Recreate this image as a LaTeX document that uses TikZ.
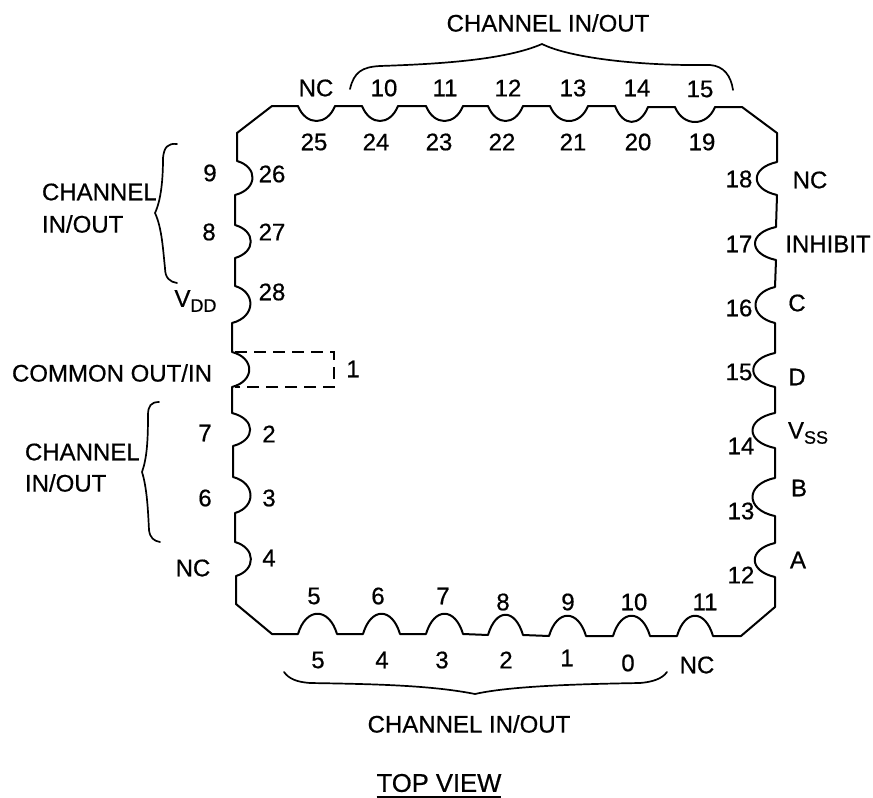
\documentclass[tikz,border=0pt]{standalone}
\usepackage{fontspec}
\setmainfont{Liberation Sans}[FakeBold=0.6]
\tikzstyle{lbl}=[inner sep=0,outer sep=0,font=\fontsize{24}{28}\selectfont]
\tikzstyle{lblbig}=[lbl,font=\fontsize{25.6}{30}\selectfont]
\tikzstyle{outline}=[line width=2pt,line join=round]
\tikzstyle{wbrace}=[line width=1.7pt,line cap=round]
\newcommand{\subs}[1]{{\fontsize{18}{20}\selectfont\raisebox{-5pt}{#1}}}
\begin{document}
\begin{tikzpicture}[x=1pt,y=-1pt]

	\useasboundingbox (0,0) rectangle (873,798);

	\draw[outline] (272,106)
		-- (298,106) .. controls (306,126) and (327,126) .. (335,106)
		-- (362,106) .. controls (370,126) and (390,126) .. (398,106)
		-- (426,106) .. controls (434,126) and (455,126) .. (463,106)
		-- (488,106) .. controls (496,126) and (515,126) .. (523,106)
		-- (550,106) .. controls (558,126) and (580,126) .. (588,106)
		-- (615,106) .. controls (623,127) and (640,127) .. (648,107)
		-- (675,107) .. controls (683,127) and (707,127) .. (715,107)
		-- (742,107) -- (777,133)
		-- (777,162) .. controls (750,168) and (750,189) .. (777,195)
		-- (776,227) .. controls (748,233) and (748,254) .. (776,260)
		-- (775,287) .. controls (749,293) and (749,317) .. (775,323)
		-- (775,353) .. controls (746,359) and (746,381) .. (775,387)
		-- (775,413) .. controls (745,419) and (745,442) .. (775,448)
		-- (775,478) .. controls (745,484) and (745,510) .. (775,516)
		-- (775,543) .. controls (748,549) and (748,571) .. (775,577)
		-- (775,607) -- (741,636)
		-- (713,636) .. controls (705,609) and (685,609) .. (677,636)
		-- (650,636) .. controls (642,609) and (621,609) .. (613,636)
		-- (586,636) .. controls (578,609) and (557,609) .. (549,636)
		-- (523,635) .. controls (515,608) and (496,608) .. (488,635)
		-- (463,634) .. controls (455,607) and (434,607) .. (426,634)
		-- (400,634) .. controls (392,607) and (371,607) .. (363,634)
		-- (337,634) .. controls (329,607) and (306,607) .. (298,634)
		-- (272,634) -- (236,604)
		-- (236,576) .. controls (256,570) and (256,548) .. (235,542)
		-- (235,513) .. controls (256,507) and (256,483) .. (233,477)
		-- (233,446) .. controls (256,440) and (256,419) .. (232,413)
		-- (232,387) .. controls (255,381) and (255,358) .. (232,352)
		-- (232,323) .. controls (256,317) and (256,292) .. (235,286)
		-- (235,258) .. controls (256,252) and (256,231) .. (235,225)
		-- (235,195) .. controls (258,189) and (258,167) .. (237,161)
		-- (237,133) -- cycle;

	\draw[line width=1.7pt,dash pattern=on 12pt off 7pt] (235,352) -- (334,352) -- (334,387) -- (235,387);

	\draw[wbrace] (350,89) .. controls (354,72) and (362,67) .. (380,66) .. controls (440,64) and (505,60) .. (542,44) .. controls (570,58) and (640,66) .. (710,65) .. controls (724,66) and (731,76) .. (733,90);
	\draw[wbrace] (284,672) .. controls (289,679) and (297,682) .. (310,683) .. controls (370,684) and (430,685) .. (475,694) .. controls (510,686) and (580,684) .. (640,683) .. controls (652,682) and (662,679) .. (667,672);
	\draw[wbrace] (177,144) .. controls (168,143) and (164,147) .. (163,158) .. controls (163,180) and (161,200) .. (155,213) .. controls (162,228) and (163,250) .. (165,268) .. controls (165,278) and (170,282) .. (177,283);
	\draw[wbrace] (159,402) .. controls (151,402) and (148,406) .. (148,415) .. controls (148,440) and (147,458) .. (142,472) .. controls (147,488) and (148,510) .. (149,530) .. controls (150,538) and (154,541) .. (160,542);

	\node[lbl] (chtop) at (548,23) {CHANNEL IN/OUT};
	\node[lbl] (chbot) at (469,724) {CHANNEL IN/OUT};
	\node[lblbig] (topview) at (439,783) {TOP VIEW};
	\draw[line width=1.7pt] ([yshift=-5pt]topview.south west) -- ([yshift=-5pt]topview.south east);

	\node[lbl,anchor=west] (chlefta) at (42,192) {CHANNEL};
	\node[lbl,anchor=west] (chleftb) at (42,224) {IN/OUT};
	\node[lbl,anchor=west] (chleftc) at (25,452) {CHANNEL};
	\node[lbl,anchor=west] (chleftd) at (25,483) {IN/OUT};
	\node[lbl] (common) at (112,373) {COMMON OUT/IN};
	\node[lbl] (vdd) at (195.5,301) {V\subs{DD}};
	\node[lbl] (ncleft) at (193,568) {NC};

	\node[lbl] (cha9) at (210,173) {9};
	\node[lbl] (cha8) at (209,232) {8};
	\node[lbl] (cha7) at (205,433) {7};
	\node[lbl] (cha6) at (205,498) {6};

	\node[lbl] (pin26) at (272,174) {26};
	\node[lbl] (pin27) at (272,232) {27};
	\node[lbl] (pin28) at (272,292) {28};
	\node[lbl] (pin1) at (353,369) {1};
	\node[lbl] (pin2) at (269,434) {2};
	\node[lbl] (pin3) at (269,498) {3};
	\node[lbl] (pin4) at (269,558) {4};

	\node[lbl] (nctop) at (316,88) {NC};
	\node[lbl] (chb10) at (384,88) {10};
	\node[lbl] (chb11) at (445,88) {11};
	\node[lbl] (chb12) at (508,88) {12};
	\node[lbl] (chb13) at (573,88) {13};
	\node[lbl] (chb14) at (637,88) {14};
	\node[lbl] (chb15) at (700,89) {15};

	\node[lbl] (pin25) at (314,142) {25};
	\node[lbl] (pin24) at (376,142) {24};
	\node[lbl] (pin23) at (439,142) {23};
	\node[lbl] (pin22) at (502,142) {22};
	\node[lbl] (pin21) at (573,142) {21};
	\node[lbl] (pin20) at (638,142) {20};
	\node[lbl] (pin19) at (702,142) {19};

	\node[lbl] (pin18) at (739,179) {18};
	\node[lbl] (pin17) at (739,244) {17};
	\node[lbl] (pin16) at (739,308) {16};
	\node[lbl] (pin15) at (739,372) {15};
	\node[lbl] (pin14) at (741,446) {14};
	\node[lbl] (pin13) at (741,511) {13};
	\node[lbl] (pin12) at (741,575) {12};

	\node[lbl] (ncright) at (810,180) {NC};
	\node[lbl] (inhibit) at (828,244) {INHIBIT};
	\node[lbl] (inc) at (797,303) {C};
	\node[lbl] (ind) at (797,377) {D};
	\node[lbl] (vss) at (808,433) {V\subs{SS}};
	\node[lbl] (inb) at (799,488) {B};
	\node[lbl] (ina) at (798,560) {A};

	\node[lbl] (pin5) at (314,596) {5};
	\node[lbl] (pin6) at (378,596) {6};
	\node[lbl] (pin7) at (443,596) {7};
	\node[lbl] (pin8) at (503,602) {8};
	\node[lbl] (pin9) at (568,602) {9};
	\node[lbl] (pin10) at (634,602) {10};
	\node[lbl] (pin11) at (705,602) {11};

	\node[lbl] (cha5) at (318,660) {5};
	\node[lbl] (cha4) at (382,660) {4};
	\node[lbl] (cha3) at (442,660) {3};
	\node[lbl] (cha2) at (506,660) {2};
	\node[lbl] (cha1) at (567,658) {1};
	\node[lbl] (cha0) at (628,663) {0};
	\node[lbl] (ncbot) at (697,665) {NC};

\end{tikzpicture}
\end{document}
